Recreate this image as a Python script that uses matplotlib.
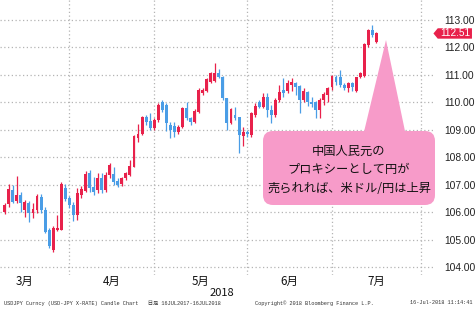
import numpy as np
import pandas as pd
import matplotlib
matplotlib.use('Agg')
import matplotlib.pyplot as plt
from matplotlib.patches import FancyBboxPatch, Polygon
from matplotlib.transforms import Affine2D

plt.rcParams['font.family'] = ['Liberation Sans', 'Noto Sans CJK JP']

# ---------------- data ----------------
start_date = '2018-03-08'
end_date = '2018-07-16'

opens = [106.02, 106.30, 106.82, 106.43, 106.64, 106.09, 106.36, 105.99, 106.09, 106.55,
         106.09, 105.36, 104.64, 105.36, 105.36, 106.90, 106.52, 106.27, 105.91, 106.64,
         106.79, 107.45, 106.92, 106.82, 107.24, 106.82, 107.36, 107.40, 107.16, 107.04,
         107.24, 107.36, 107.67, 108.70, 108.86, 109.49, 109.34, 109.06, 109.36, 110.00,
         109.91, 109.18, 109.15, 108.94, 109.12, 109.79, 109.42, 109.30, 109.67, 110.33,
         110.43, 110.76, 110.79, 111.09, 110.92, 110.15, 109.24, 109.55, 109.48, 108.78,
         108.94, 108.82, 109.55, 110.03, 109.85, 110.21, 109.73, 109.55, 110.09, 110.45,
         110.43, 110.64, 110.70, 110.60, 110.09, 110.39, 110.03, 110.03, 109.73, 110.09,
         110.27, 110.58, 110.92, 110.94, 110.64, 110.52, 110.70, 110.43, 110.92, 110.98,
         112.08, 112.64, 112.21]
highs = [106.35, 107.04, 107.00, 107.33, 106.75, 106.47, 106.40, 106.33, 106.67, 106.67,
         106.20, 105.45, 105.50, 105.90, 107.10, 107.05, 106.60, 106.39, 106.88, 106.95,
         107.50, 107.55, 107.30, 107.45, 107.42, 107.48, 107.81, 107.64, 107.24, 107.30,
         107.48, 107.91, 108.82, 109.21, 109.51, 109.55, 109.61, 109.42, 109.97, 110.09,
         109.97, 109.30, 109.30, 109.18, 109.85, 110.03, 109.48, 109.75, 110.52, 110.52,
         110.90, 111.12, 111.42, 111.21, 110.95, 110.15, 109.80, 109.85, 109.48, 109.10,
         109.00, 109.67, 109.97, 110.09, 110.33, 110.33, 109.91, 110.15, 110.64, 110.88,
         110.82, 110.88, 110.76, 110.62, 110.52, 110.42, 110.21, 110.05, 110.15, 110.39,
         110.58, 111.00, 111.00, 111.18, 110.70, 110.76, 110.76, 110.94, 111.12, 112.15,
         112.66, 112.82, 112.58]
lows = [105.95, 106.21, 106.35, 106.33, 106.00, 105.85, 105.67, 105.79, 105.98, 105.98,
        105.25, 104.70, 104.56, 105.34, 105.35, 106.42, 106.16, 105.70, 105.73, 106.53,
        106.75, 106.75, 106.64, 106.70, 106.70, 106.76, 107.24, 107.00, 106.92, 106.96,
        107.18, 107.33, 107.64, 108.58, 108.82, 109.18, 109.00, 109.00, 109.30, 109.67,
        108.97, 108.70, 108.76, 108.85, 109.06, 109.36, 109.18, 109.27, 109.62, 110.27,
        110.38, 110.70, 110.75, 110.88, 110.09, 109.00, 109.20, 109.36, 108.15, 108.40,
        108.76, 108.76, 109.49, 109.79, 109.79, 109.49, 109.24, 109.49, 110.03, 110.21,
        110.33, 110.43, 110.27, 109.60, 110.03, 109.87, 109.82, 109.42, 109.42, 109.91,
        110.03, 110.45, 110.64, 110.58, 110.45, 110.39, 110.43, 110.39, 110.88, 110.94,
        112.03, 112.39, 112.16]
closes = [106.27, 106.84, 106.39, 106.64, 106.33, 106.39, 105.97, 106.12, 106.60, 106.09,
          105.30, 104.78, 105.42, 105.45, 107.04, 106.48, 106.27, 105.91, 106.70, 106.84,
          107.40, 106.88, 106.76, 107.24, 106.82, 107.36, 107.73, 107.12, 107.00, 107.24,
          107.42, 107.69, 108.78, 108.86, 109.46, 109.30, 109.06, 109.36, 109.91, 109.73,
          109.24, 109.00, 108.94, 109.12, 109.79, 109.42, 109.30, 109.70, 110.45, 110.45,
          110.84, 111.06, 111.09, 110.92, 110.15, 109.24, 109.75, 109.42, 108.82, 108.94,
          108.85, 109.61, 109.87, 109.85, 110.21, 109.73, 109.55, 110.09, 110.39, 110.33,
          110.70, 110.76, 110.58, 110.09, 110.43, 110.03, 109.95, 109.73, 110.09, 110.31,
          110.52, 110.96, 110.76, 110.64, 110.52, 110.70, 110.58, 110.92, 111.06, 112.12,
          112.62, 112.45, 112.51]

y_ticks = [104, 105, 106, 107, 108, 109, 110, 111, 112, 113]
month_labels = ['3月', '4月', '5月', '6月', '7月']
year_label = '2018'
last_price = 112.51
callout_lines = ['中国人民元の', 'プロキシーとして円が', '売られれば、米ドル/円は上昇']
footer_left = 'USDJPY Curncy (USD-JPY X-RATE) Candle Chart   日足 16JUL2017-16JUL2018'
footer_mid = 'Copyright© 2018 Bloomberg Finance L.P.'
footer_right = '16-Jul-2018 11:14:41'

# ---------------- layout ----------------
W, H = 476, 311
fig = plt.figure(figsize=(W / 100, H / 100), dpi=100)
ax = fig.add_axes([0, 1 - 275 / H, 433 / W, 275 / H])

dates = pd.bdate_range(start_date, end_date)
x = np.arange(len(dates))

all_days = pd.bdate_range('2018-02-01', '2018-08-31')
pos = {d: i for i, d in enumerate(all_days)}
offset = pos[pd.Timestamp(start_date)]
month_end = all_days.to_series().groupby(all_days.to_period('M')).max()
grid_x = [pos[d] - offset for d in month_end]

RED = '#e8214b'
BLUE = '#4a9de6'
o = np.array(opens); c = np.array(closes); hi = np.array(highs); lo = np.array(lows)
cols = [RED if cc >= oo else BLUE for oo, cc in zip(o, c)]

grid_kw = dict(color='#b4b4b4', lw=0.9, ls=(0, (1, 2)), zorder=0)
for gx in grid_x:
    ax.axvline(gx, **grid_kw)
for yv in y_ticks:
    ax.axhline(yv, **grid_kw)

ax.vlines(x, lo, hi, colors=cols, lw=0.9, zorder=2)
body_h = np.maximum(np.abs(c - o), 0.04)
ax.bar(x, body_h, bottom=np.minimum(o, c), width=0.72, color=cols, zorder=3, linewidth=0)

ax.set_xlim(-1.16, 106.0)
ax.set_ylim(103.727, 113.727)
ax.set_xticks([])
ax.set_yticks(y_ticks)
ax.set_yticklabels([f'{v:.2f}' for v in y_ticks])
ax.yaxis.tick_right()
ax.tick_params(axis='y', length=0, pad=8, labelsize=7.4, labelcolor='#222222')
for s in ax.spines.values():
    s.set_visible(False)

# month labels between month-end gridlines
xt = ax.get_xaxis_transform()
for lab, a, b in zip(month_labels, grid_x[:-1], grid_x[1:]):
    ax.text((a + b) / 2, -0.022, lab, transform=xt, ha='center', va='center',
            fontsize=8.3, family=['Noto Sans CJK JP'], color='#111111')
ax.text(222 / 433, -0.066, year_label, transform=ax.transAxes, ha='center', va='center',
        fontsize=8, family=['Noto Sans CJK JP'], color='#111111')

# last price tag
yt = ax.get_yaxis_transform()
dh = 5.2 / 27.5
tag = Polygon([(1.001, last_price), (1.011, last_price + dh), (1.090, last_price + dh),
               (1.090, last_price - dh), (1.011, last_price - dh)], closed=True,
              transform=yt, facecolor=RED, edgecolor='none', clip_on=False, zorder=6)
ax.add_patch(tag)
ax.text(1.051, last_price, f'{last_price:.2f}', transform=yt, ha='center', va='center',
        fontsize=7.2, color='white', clip_on=False, zorder=7)

# pink callout (pixel coordinates, y from top)
pix = Affine2D().scale(1 / 100, -1 / 100).translate(0, H / 100) + fig.dpi_scale_trans
PINK = '#f79bc9'
tri = Polygon([(363, 136), (386, 40), (406, 136)], closed=True, transform=pix,
              facecolor=PINK, edgecolor='none', clip_on=False, zorder=8)
fig.add_artist(tri)
box = FancyBboxPatch((263, 131), 172, 74, boxstyle='round,pad=0,rounding_size=10',
                     transform=pix, facecolor=PINK, edgecolor='none', clip_on=False, zorder=8)
fig.add_artist(box)
for i, line in enumerate(callout_lines):
    fig.text(349, 151 + i * 18.5, line, transform=pix, ha='center', va='center',
             fontsize=8.8, family=['Noto Sans CJK JP'], color='#111111', zorder=9)

# footer
foot_kw = dict(va='center', fontsize=3.8, color='#333333',
               family=['Liberation Mono', 'Noto Sans CJK JP'])
fig.text(4, 303, footer_left, transform=pix, ha='left', **foot_kw)
fig.text(255, 303, footer_mid, transform=pix, ha='left', **foot_kw)
fig.text(472, 303, footer_right, transform=pix, ha='right', **foot_kw)

fig.savefig('out.png', dpi=100, facecolor='white')
